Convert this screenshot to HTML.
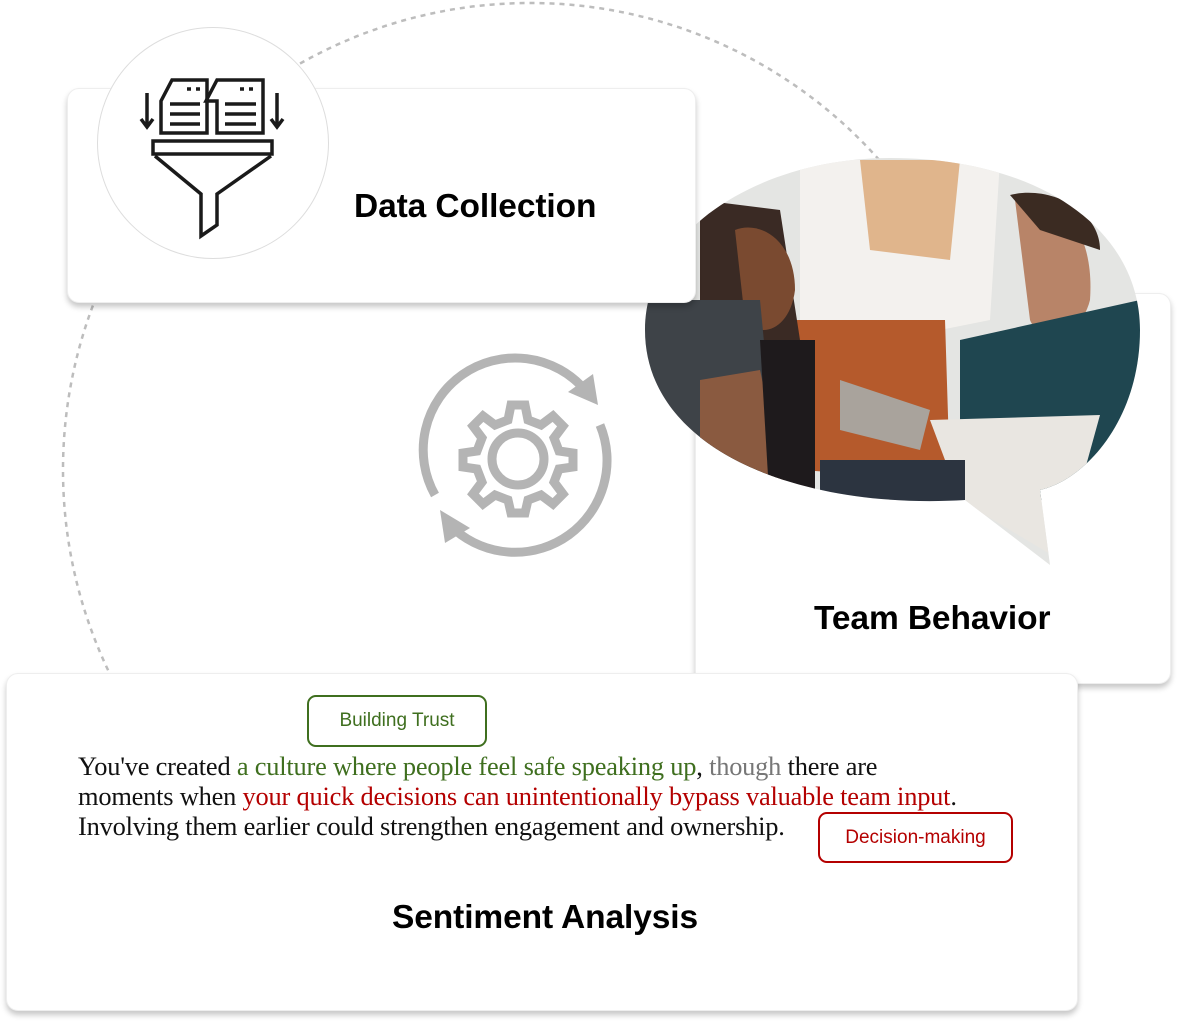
<!DOCTYPE html>
<html><head><meta charset="utf-8"><style>
html,body{margin:0;padding:0;background:#fff;width:1180px;height:1023px;overflow:hidden;position:relative;font-family:"Liberation Sans",sans-serif}
.card{position:absolute;background:#fff;border-radius:12px;border:1px solid #eee;box-shadow:0 4px 6px rgba(0,0,0,0.22)}
.title{position:absolute;font-weight:bold;font-size:33.5px;color:#000;white-space:nowrap;letter-spacing:-0.1px}
.tag{position:absolute;border:2px solid;border-radius:9px;font-size:19px;display:flex;align-items:center;justify-content:center;background:#fff}
.para{position:absolute;left:78px;top:751px;font-family:"Liberation Serif",serif;font-size:26.4px;line-height:30px;color:#111;white-space:nowrap;letter-spacing:-0.2px}
.g{color:#3f6f1f}.r{color:#b40000}.gr{color:#777}
</style></head><body>
<svg width="1180" height="1023" style="position:absolute;left:0;top:0">
<ellipse cx="530" cy="470" rx="467" ry="467" fill="none" stroke="#bdbdbd" stroke-width="2.5" stroke-dasharray="5,5"/>
</svg>
<div class="card" style="left:695px;top:293px;width:474px;height:389px"></div>
<div class="title" style="left:814px;top:600px">Team Behavior</div>
<svg width="1180" height="1023" style="position:absolute;left:0;top:0">
<defs><clipPath id="cp"><path d="M890 158 C1040 158 1140 230 1140 330 C1140 420 1085 480 1040 490 L1050 565 L965 500 C800 510 645 450 645 330 C645 230 760 158 890 158 Z"/></clipPath></defs>
<g clip-path="url(#cp)">
<rect x="640" y="155" width="505" height="420" fill="#e4e5e3"/>
<path d="M800 160 L1000 160 L990 320 L940 330 L800 320 Z" fill="#f3f1ee"/>
<path d="M860 160 L960 160 L950 260 L870 250 Z" fill="#e0b58c"/>
<path d="M795 320 L945 320 L950 480 L800 470 Z" fill="#b55a2c"/>
<path d="M700 200 L780 210 L800 340 L760 500 L700 500 Z" fill="#3a2a24"/>
<path d="M735 230 C760 220 795 240 795 290 C790 330 760 340 745 320 Z" fill="#7a4a30"/>
<path d="M645 300 L760 300 L780 510 L645 510 Z" fill="#3e4348"/>
<path d="M700 380 L760 370 L790 510 L700 510 Z" fill="#8a5a40"/>
<path d="M760 340 L815 340 L815 510 L770 510 Z" fill="#1e1a1c"/>
<path d="M1015 200 C1060 190 1095 230 1090 300 C1080 340 1040 345 1030 320 Z" fill="#b88468"/>
<path d="M1010 195 C1050 185 1100 210 1100 250 L1040 230 Z" fill="#3b2b22"/>
<path d="M960 340 L1140 300 L1140 500 L960 500 Z" fill="#1f4650"/>
<path d="M840 380 L930 410 L920 450 L840 430 Z" fill="#a9a39c"/>
<path d="M930 420 L1100 415 L1060 560 L960 500 Z" fill="#e9e6e1"/>
<rect x="820" y="460" width="145" height="50" fill="#2c3440"/>
</g>
</svg>
<div class="card" style="left:67px;top:88px;width:627px;height:213px"></div>
<div style="position:absolute;left:97px;top:27px;width:230px;height:230px;border-radius:50%;background:#fff;border:1px solid #ddd"></div>
<svg width="1180" height="1023" style="position:absolute;left:0;top:0">
<g fill="none" stroke="#1a1a1a" stroke-width="3.5">
<path d="M161 101 L172 80 L207 80 L207 133 L161 133 Z"/>
<path d="M207 101 L218 80 L264 80 L264 133 L218 133 L218 101 Z" transform="translate(-1,0)"/>
<path d="M153 141 L272 141 L272 154 L153 154 Z"/>
<path d="M155 156 L201 194 L201 236 L217 225 L217 194 L271 156"/>
<path d="M147 93 L147 126 M141 119 L147 127 L153 119 M277 93 L277 126 M271 119 L277 127 L283 119"/>
<path d="M170 104 L200 104 M170 114 L200 114 M170 124 L200 124 M225 104 L256 104 M225 114 L256 114 M225 124 L256 124 M187 89 L191 89 M196 89 L200 89 M240 89 L244 89 M249 89 L253 89"/>
</g>
<g fill="none" stroke="#b4b4b4" stroke-width="9">
<path d="M435 495 A92 92 0 0 1 585 390"/>
<path d="M600 425 A92 92 0 0 1 455 530"/>
<path d="M511 405 L525 405 L528 420 L541 425 L553 416 L563 426 L554 438 L559 451 L573 453 L573 467 L559 469 L554 482 L563 494 L553 504 L541 495 L528 500 L525 513 L511 513 L508 500 L495 495 L483 504 L473 494 L482 482 L477 469 L463 467 L463 453 L477 451 L482 438 L473 426 L483 416 L495 425 L508 420 Z"/>
<circle cx="518" cy="459" r="26"/>
</g>
<path d="M568 392 L593 374 L598 405 Z" fill="#b4b4b4"/>
<path d="M440 510 L445 543 L470 528 Z" fill="#b4b4b4"/>
</svg>
<div class="title" style="left:354px;top:188px">Data Collection</div>
<div class="card" style="left:6px;top:673px;width:1070px;height:336px"></div>
<div class="tag" style="left:307px;top:695px;width:176px;height:48px;border-color:#3f6f1f;color:#3f6f1f">Building Trust</div>
<div class="para">You've created <span class="g">a culture where people feel safe speaking up</span>, <span class="gr">though</span> there are<br>moments when <span class="r">your quick decisions can unintentionally bypass valuable team input</span>.<br>Involving them earlier could strengthen engagement and ownership.</div>
<div class="tag" style="left:818px;top:812px;width:191px;height:47px;border-color:#b40000;color:#b40000">Decision-making</div>
<div class="title" style="left:392px;top:899px">Sentiment Analysis</div>
</body></html>
